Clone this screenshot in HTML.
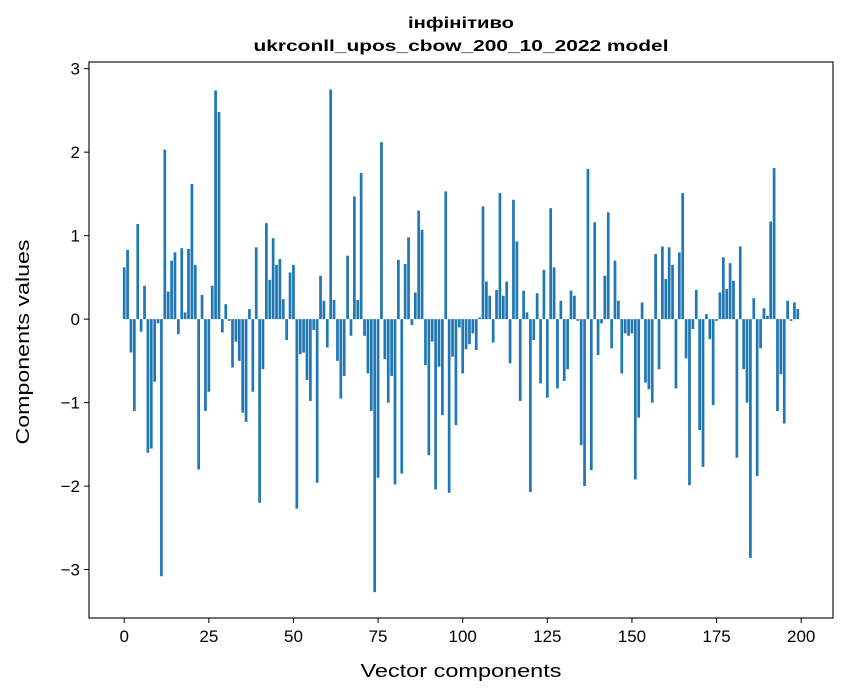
<!DOCTYPE html>
<html><head><meta charset="utf-8"><style>
body{margin:0;background:#fff;}
svg{display:block;font-family:"Liberation Sans","DejaVu Sans",sans-serif;}
</style></head><body>
<svg id="chart" width="847" height="696" viewBox="0 0 847 696">
<text x="461" y="28" text-anchor="middle" font-size="16" font-weight="bold" textLength="106" lengthAdjust="spacingAndGlyphs">інфінітиво</text>
<text x="461" y="51" text-anchor="middle" font-size="16" font-weight="bold" textLength="415" lengthAdjust="spacingAndGlyphs">ukrconll_upos_cbow_200_10_2022 model</text>
<g id="bars"></g>
<g id="xticks"></g>
<g id="yticks"></g>
<rect x="89" y="62" width="744" height="556" fill="none" stroke="#000" stroke-width="1.1"/>
<text x="461" y="677" text-anchor="middle" font-size="18" textLength="201" lengthAdjust="spacingAndGlyphs">Vector components</text>
<text x="29" y="342" text-anchor="middle" font-size="18" textLength="205" lengthAdjust="spacingAndGlyphs" transform="rotate(-90 29 342)">Components values</text>
</svg>
<script>
const values = [0.62,0.83,-0.4,-1.1,1.14,-0.15,0.4,-1.6,-1.55,-0.75,-0.05,-3.08,2.03,0.33,0.7,0.8,-0.18,0.85,0.08,0.84,
1.62,0.65,-1.8,0.29,-1.1,-0.87,0.4,2.74,2.48,-0.16,0.18,-0.02,-0.58,-0.27,-0.5,-1.12,-1.23,0.12,-0.87,0.86,
-2.2,-0.6,1.15,0.47,0.97,0.65,0.72,0.24,-0.25,0.56,0.65,-2.27,-0.42,-0.4,-0.73,-0.98,-0.13,-1.96,0.52,0.22,
-0.34,2.75,0.23,-0.5,-0.95,-0.68,0.76,-0.2,1.47,0.23,1.75,-0.2,-0.65,-1.1,-3.27,-1.9,2.12,-0.48,-1.0,-0.68,
-1.98,0.71,-1.85,0.66,0.98,-0.07,0.32,1.3,1.07,-0.55,-1.63,-0.27,-2.04,-0.57,-1.15,1.53,-2.08,-0.45,-1.27,-0.1,
-0.65,-0.36,-0.3,-0.17,-0.37,0.02,1.35,0.45,0.28,-0.28,0.35,1.51,0.28,0.45,-0.53,1.43,0.93,-0.98,0.34,0.08,
-2.07,-0.25,0.31,-0.77,0.59,-0.94,1.33,0.62,-0.83,0.22,-0.74,-0.6,0.34,0.28,-0.02,-1.51,-2.0,1.8,-1.81,1.16,
-0.43,-0.05,0.52,1.28,-0.35,0.7,0.22,-0.65,-0.17,-0.2,-0.17,-1.92,-1.18,0.2,-0.76,-0.84,-1.0,0.78,-0.6,0.87,
0.48,0.86,0.65,-0.83,0.8,1.51,-0.47,-1.99,-0.12,0.35,-1.33,-1.77,0.06,-0.24,-1.03,-0.02,0.32,0.74,0.36,0.67,
0.46,-1.66,0.87,-0.6,-1.0,-2.86,0.25,-1.88,-0.35,0.13,0.04,1.17,1.81,-1.1,-0.66,-1.25,0.22,-0.02,0.2,0.12];
const xTickLabels = [0,25,50,75,100,125,150,175,200];
const yTickLabels = [-3,-2,-1,0,1,2,3];

const NS='http://www.w3.org/2000/svg';
const X0=89,X1=833,Y0=62,Y1=618;
const xMin=-10.4,xMax=209.4,yMin=-3.58,yMax=3.08;
function xs(v){return X0+(v-xMin)/(xMax-xMin)*(X1-X0);}
function ys(v){return Y0+(yMax-v)/(yMax-yMin)*(Y1-Y0);}
const bars=document.getElementById('bars');
values.forEach((v,i)=>{
  const r=document.createElementNS(NS,'rect');
  const xl=xs(i-0.4), xr=xs(i+0.4);
  const y=Math.min(ys(v),ys(0)), h=Math.abs(ys(v)-ys(0));
  r.setAttribute('x',xl);r.setAttribute('width',xr-xl);
  r.setAttribute('y',y);r.setAttribute('height',h);
  r.setAttribute('fill','#1f77b4');
  
  
  bars.appendChild(r);
});
const xt=document.getElementById('xticks');
xTickLabels.forEach(t=>{
  const l=document.createElementNS(NS,'line');
  l.setAttribute('x1',xs(t));l.setAttribute('x2',xs(t));l.setAttribute('y1',Y1);l.setAttribute('y2',Y1+5);
  l.setAttribute('stroke','#000');
  
  
  xt.appendChild(l);
  const s=document.createElementNS(NS,'text');
  s.setAttribute('x',xs(t));s.setAttribute('y',Y1+24);s.setAttribute('text-anchor','middle');s.setAttribute('font-size','17');
  s.textContent=t;
  
  
  xt.appendChild(s);
});
const yt=document.getElementById('yticks');
yTickLabels.forEach(t=>{
  const l=document.createElementNS(NS,'line');
  l.setAttribute('x1',X0-5);l.setAttribute('x2',X0);l.setAttribute('y1',ys(t));l.setAttribute('y2',ys(t));
  l.setAttribute('stroke','#000');
  
  
  yt.appendChild(l);
  const s=document.createElementNS(NS,'text');
  s.setAttribute('x',X0-9);s.setAttribute('y',ys(t)+6);s.setAttribute('text-anchor','end');s.setAttribute('font-size','17');
  s.textContent=t<0?'\u2212'+Math.abs(t):t;
  
  
  yt.appendChild(s);
});
</script>
</body></html>
